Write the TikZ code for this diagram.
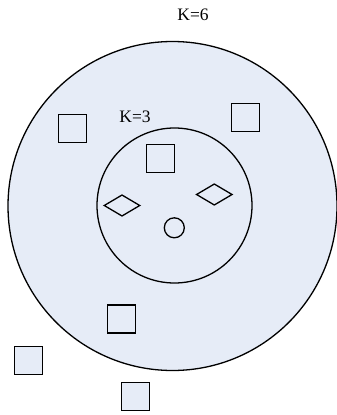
\documentclass[tikz,border=0pt]{standalone}
\usepackage{fontspec}
\setmainfont{Liberation Serif}
\usetikzlibrary{shapes.geometric}
\definecolor{zonefill}{RGB}{230,236,247}

\begin{document}
\begin{tikzpicture}[x=1pt, y=-1pt,
  zone/.style={draw, circle, fill=zonefill, line width=1.3pt, inner sep=0pt},
  sq/.style={draw, fill=zonefill, line width=1.3pt, minimum size=28pt, inner sep=0pt},
  dia/.style={draw, diamond, line width=1.3pt, minimum width=36pt, minimum height=21.5pt, inner sep=0pt},
  lab/.style={font=\fontsize{17.5}{19}\selectfont}
]
\useasboundingbox (0,0) rectangle (337,415);

% the two neighbourhoods
\node[zone, minimum size=329pt] (outer) at (172.5,206) {};
\node[zone, minimum size=155pt] (inner) at (174.5,205.5) {};
\node[lab] (k6) at (193,15) {K=6};
\node[lab] (k3) at (135,117) {K=3};

% class A points
\foreach \name/\x/\y in {a1/72.5/128.3, a2/245.8/117.2, a3/160.5/158.3,
                         a4/121.8/319, a5/28.3/360.5, a6/135.7/396.2} {
  \node[sq] (\name) at (\x,\y) {};
}

% class B points
\node[dia] (b1) at (122,205.5) {};
\node[dia] (b2) at (214.3,194.5) {};

% query point
\node[draw, circle, line width=1.3pt, minimum size=20pt, inner sep=0pt] (q) at (174.3,227.8) {};
\end{tikzpicture}
\end{document}
